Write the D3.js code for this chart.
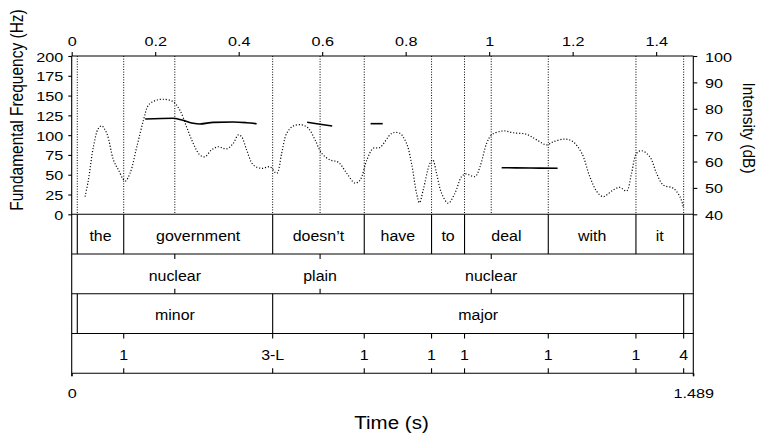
<!DOCTYPE html>
<html><head><meta charset="utf-8">
<script src="https://cdn.jsdelivr.net/npm/d3@7"></script>
<style>
body{margin:0;background:#fff}
svg{display:block}
text{font-family:"Liberation Sans",Arial,Helvetica,sans-serif;fill:#000}
</style></head><body>
<svg id="c" width="760" height="437"></svg>
<script>
// ---------- data ----------
const timeTicks = [0, 0.2, 0.4, 0.6, 0.8, 1, 1.2, 1.4];
const timeTickLabels = ["0", "0.2", "0.4", "0.6", "0.8", "1", "1.2", "1.4"];
const hzTicks = [0, 25, 50, 75, 100, 125, 150, 175, 200];
const dbTicks = [40, 50, 60, 70, 80, 90, 100];
const endTicks = [0, 1.489];
const endTickLabels = ["0", "1.489"];

const intensityT = [0.032,0.040,0.052,0.064,0.072,0.084,0.100,0.112,0.128,0.140,
  0.156,0.172,0.184,0.200,0.219,0.243,0.259,0.275,0.291,0.307,
  0.319,0.335,0.351,0.371,0.387,0.399,0.407,0.419,0.435,0.455,
  0.475,0.491,0.503,0.515,0.531,0.551,0.567,0.583,0.599,0.619,
  0.639,0.659,0.679,0.691,0.707,0.722,0.738,0.767,0.786,0.802,
  0.814,0.826,0.833,0.842,0.858,0.865,0.874,0.886,0.902,0.918,
  0.934,0.944,0.966,0.978,0.994,1.006,1.034,1.058,1.090,1.114,
  1.138,1.154,1.182,1.201,1.222,1.241,1.258,1.273,1.297,1.313,
  1.329,1.341,1.353,1.365,1.385,1.401,1.417,1.441,1.457,1.465];
const intensityDb = [46.7,53.0,65.6,72.6,73.5,70.7,60.6,56.8,52.6,55.7,
  65.6,75.7,81.4,83.1,83.6,82.7,79.5,73.2,66.9,62.5,
  61.8,64.4,65.6,64.8,66.9,70.1,69.4,64.4,58.7,57.4,
  58.0,55.5,63.1,70.7,73.5,73.9,72.6,68.2,63.1,60.6,
  59.7,55.5,51.8,53.0,60.6,65.0,65.3,70.7,70.7,66.9,
  59.3,48.0,44.4,49.2,59.3,60.6,55.5,48.0,44.2,48.0,
  54.3,55.3,54.3,58.0,66.9,70.1,71.6,70.9,70.3,68.2,
  66.3,67.5,68.5,67.5,63.1,54.3,48.6,46.7,49.2,50.2,
  48.8,55.5,63.1,64.1,61.8,55.5,51.1,49.9,46.7,42.9];

const pitchT = [
  [0.176,0.243,0.264,0.291,0.307,0.339,0.387,0.419,0.443],
  [0.564,0.595,0.624],
  [0.716,0.745],
  [1.030,1.098,1.164]];
const pitchHz = [
  [120.4,121.3,119.1,115.0,114.1,116.2,116.6,115.7,114.5],
  [116.2,113.7,111.6],
  [114.5,114.5],
  [58.9,58.5,58.1]];

const words = ["the", "government", "doesn\u2019t", "have", "to", "deal", "with", "it"];
const wordBounds = [0.0134, 0.1246, 0.4814, 0.7008, 0.862, 0.941, 1.1416, 1.3516, 1.4659];
const toneTimes = [0.247, 0.595, 1.005];
const toneLabels = ["nuclear", "plain", "nuclear"];
const phraseBounds = [0.0134, 0.4814, 1.4659];
const phraseLabels = ["minor", "major"];
const breakTimes = [0.1246, 0.4814, 0.7008, 0.862, 0.941, 1.1416, 1.3516, 1.4659];
const breakLabels = ["1", "3-L", "1", "1", "1", "1", "1", "4"];

// ---------- layout ----------
const X0 = 71.7, X1 = 693.3, Y0 = 56, YP = 214.3, YB = 373.3;
const FONT = '"Liberation Sans",Arial,Helvetica,sans-serif';
const svg = d3.select("#c");

const x = d3.scaleLinear().domain([0, 1.489]).range([X0, X1]);
const yHz = d3.scaleLinear().domain([0, 200]).range([YP, Y0]);
const yDb = d3.scaleLinear().domain([40, 100]).range([YP, Y0]);
const tierY = d3.scaleLinear().domain([0, 4]).range([YP, YB]);

function txt(g, px, py, s, size, anchor, sx) {
  return g.append("text")
    .attr("transform", `translate(${px},${py}) scale(${sx},1)`)
    .attr("text-anchor", anchor).attr("font-size", size).text(s);
}

// ---------- frame ----------
const frame = svg.append("g").attr("stroke", "#000").attr("stroke-width", 1.1).attr("fill", "none");
frame.append("line").attr("x1", X0).attr("x2", X1).attr("y1", Y0).attr("y2", Y0);
frame.append("line").attr("x1", X0).attr("x2", X0).attr("y1", Y0).attr("y2", YB + 3);
frame.append("line").attr("x1", X1).attr("x2", X1).attr("y1", Y0).attr("y2", YB + 3);
[0, 1, 2, 3, 4].forEach(i => {
  frame.append("line").attr("x1", X0).attr("x2", X1).attr("y1", tierY(i)).attr("y2", tierY(i));
});

// ---------- axes ----------
const SX = 1.2, TS = 13.5;
const gTop = svg.append("g").attr("transform", `translate(0,${Y0})`)
  .call(d3.axisTop(x).tickValues(timeTicks).tickFormat((d, i) => timeTickLabels[i])
    .tickSize(4).tickPadding(6).tickSizeOuter(0));
gTop.select(".domain").remove();
gTop.attr("font-family", FONT).attr("font-size", TS);
gTop.selectAll("text").attr("transform", `scale(${SX},1)`);

const gLeft = svg.append("g").attr("transform", `translate(${X0},0)`)
  .call(d3.axisLeft(yHz).tickValues(hzTicks).tickSize(3.4).tickPadding(3.6).tickSizeOuter(0));
gLeft.select(".domain").remove();
gLeft.attr("font-family", FONT).attr("font-size", TS);
gLeft.selectAll("text").attr("transform", `scale(${SX},1)`).attr("dy", "0.37em");

const gRight = svg.append("g").attr("transform", `translate(${X1},0)`)
  .call(d3.axisRight(yDb).tickValues(dbTicks).tickSize(4).tickPadding(5.75).tickSizeOuter(0));
gRight.select(".domain").remove();
gRight.attr("font-family", FONT).attr("font-size", TS);
gRight.selectAll("text").attr("transform", `scale(${SX},1)`).attr("dy", "0.37em");

const gBot = svg.append("g").attr("transform", `translate(0,${YB})`)
  .call(d3.axisBottom(x).tickValues(endTicks).tickFormat((d, i) => endTickLabels[i])
    .tickSize(3).tickPadding(12.6).tickSizeOuter(0));
gBot.select(".domain").remove();
gBot.attr("font-family", FONT).attr("font-size", TS);
gBot.selectAll("text").attr("transform", `scale(${SX},1)`);

svg.selectAll(".tick line").attr("stroke-width", 1.1);

// axis titles
svg.append("text").attr("transform", "translate(23,110) rotate(-90) scale(1,1.14)")
  .attr("text-anchor", "middle").attr("font-size", 15.5).text("Fundamental Frequency (Hz)");
svg.append("text").attr("transform", "translate(743,128) rotate(90) scale(1,1.12)")
  .attr("text-anchor", "middle").attr("font-size", 15.5).text("Intensity (dB)");
txt(svg, 391.5, 428.5, "Time (s)", 19, "middle", 1.08);

// ---------- pitch area ----------
const guides = svg.append("g").attr("stroke", "#000").attr("stroke-width", 1)
  .attr("stroke-dasharray", "1,1.6");
wordBounds.concat(toneTimes).forEach(t => {
  guides.append("line").attr("x1", x(t)).attr("x2", x(t)).attr("y1", Y0).attr("y2", YP);
});

const intensity = intensityT.map((t, i) => [t, intensityDb[i]]);
svg.append("path").datum(intensity)
  .attr("fill", "none").attr("stroke", "#000").attr("stroke-width", 1.2)
  .attr("stroke-dasharray", "1.1,1.9")
  .attr("d", d3.line().x(d => x(d[0])).y(d => yDb(d[1])).curve(d3.curveCatmullRom));

pitchT.forEach((seg, k) => {
  const pts = seg.map((t, i) => [t, pitchHz[k][i]]);
  svg.append("path").datum(pts)
    .attr("fill", "none").attr("stroke", "#000").attr("stroke-width", 1.6)
    .attr("d", d3.line().x(d => x(d[0])).y(d => yHz(d[1])).curve(d3.curveMonotoneX));
});

// ---------- tiers ----------
const tiers = svg.append("g");
const TF = 14.5, TSX = 1.1, BASE = 6.8;
const tl = tiers.append("g").attr("stroke", "#000").attr("stroke-width", 1.1);

// tier 1: words
wordBounds.forEach(t => tl.append("line").attr("x1", x(t)).attr("x2", x(t))
  .attr("y1", tierY(0)).attr("y2", tierY(1)));
words.forEach((w, i) => {
  txt(tiers, (x(wordBounds[i]) + x(wordBounds[i + 1])) / 2, (tierY(0) + tierY(1)) / 2 + BASE, w, TF, "middle", TSX);
});

// tier 2: tones (point tier)
toneTimes.forEach((t, i) => {
  tl.append("line").attr("x1", x(t)).attr("x2", x(t)).attr("y1", tierY(1)).attr("y2", tierY(1) + 5);
  tl.append("line").attr("x1", x(t)).attr("x2", x(t)).attr("y1", tierY(2) - 5).attr("y2", tierY(2));
  txt(tiers, x(t), (tierY(1) + tierY(2)) / 2 + BASE, toneLabels[i], TF, "middle", TSX);
});

// tier 3: phrases
phraseBounds.forEach(t => tl.append("line").attr("x1", x(t)).attr("x2", x(t))
  .attr("y1", tierY(2)).attr("y2", tierY(3)));
phraseLabels.forEach((p, i) => {
  txt(tiers, (x(phraseBounds[i]) + x(phraseBounds[i + 1])) / 2, (tierY(2) + tierY(3)) / 2 + BASE, p, TF, "middle", TSX);
});

// tier 4: break indices (point tier)
breakTimes.forEach((t, i) => {
  tl.append("line").attr("x1", x(t)).attr("x2", x(t)).attr("y1", tierY(3)).attr("y2", tierY(3) + 5);
  tl.append("line").attr("x1", x(t)).attr("x2", x(t)).attr("y1", tierY(4) - 5).attr("y2", tierY(4));
  txt(tiers, x(t), (tierY(3) + tierY(4)) / 2 + BASE, breakLabels[i], TF, "middle", TSX);
});
</script>
</body></html>
